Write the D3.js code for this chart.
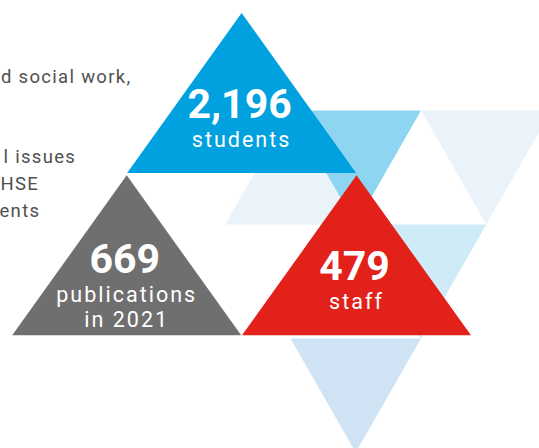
<!DOCTYPE html>
<html>
<head>
<meta charset="utf-8">
<script src="https://cdn.jsdelivr.net/npm/d3@7"></script>
<style>
  html, body { margin: 0; padding: 0; background: #fff; }
  svg { display: block; }
</style>
</head>
<body>
<svg id="chart"></svg>
<script>
// key figures shown in the big triangles
var statValues = ["2,196", "669", "479"];
var statLabels = [["students"], ["publications", "in 2021"], ["staff"]];
var statColors = ["#00a1de", "#6f6f6f", "#e3211b"];
// where each big triangle sits in the tiling (column, row)
var statCols = [1, 0, 2];
var statRows = [0, 1, 1];

// pale triangles behind (column, row, pointing down?)
var bgCols = [0, 0.5, 1.5, 1, 0.5];
var bgRows = [0, 0, 0, 1, 2];
var bgDown = [false, true, true, true, true];
var bgColors = ["#eaf3fa", "#8dd5f0", "#ebf3fa", "#cfebf7", "#cfe3f4"];

// cut off paragraph on the left
var introLines = ["d social work,", "", "", "l issues", "HSE", "ents"];
var introX = [1, 0, 0, 3.5, 0.5, -0.5];

const width = 539, height = 448;

var svg = d3.select("#chart")
  .attr("width", width)
  .attr("height", height);

// big triangles: 229 wide, 160 tall
var xBig = d3.scaleLinear().domain([0, 2]).range([126.7, 356.5]);
var yBig = d3.scaleLinear().domain([0, 1]).range([13, 175.3]);
const bigHalf = 114.5, bigH = 160;

// background grid, roughly equilateral
var xBg = d3.scaleLinear().domain([0, 1]).range([290.5, 421]);
var yBg = d3.scaleLinear().domain([0, 1]).range([110.5, 224.5]);
const bgHalf = (xBg(1) - xBg(0)) / 2, bgH = yBg(1) - yBg(0);

var bgData = bgCols.map((c, i) => ({ c: c, r: bgRows[i], down: bgDown[i], color: bgColors[i] }));

svg.append("g")
  .selectAll("path")
  .data(bgData)
  .enter()
  .append("path")
  .attr("d", function(d) {
    var cx = xBg(d.c), top = yBg(d.r);
    var pts = d.down
      ? [[cx - bgHalf, top], [cx + bgHalf, top], [cx, top + bgH]]
      : [[cx, top], [cx + bgHalf, top + bgH], [cx - bgHalf, top + bgH]];
    return d3.line()(pts) + "Z";
  })
  .attr("fill", d => d.color);

// intro text
svg.append("g")
  .selectAll("text")
  .data(introLines)
  .enter()
  .append("text")
  .attr("x", (d, i) => introX[i])
  .attr("y", (d, i) => 83.3 + i * 26.7)
  .attr("font-family", "Roboto, sans-serif")
  .attr("font-size", 18.5)
  .attr("letter-spacing", 1.3)
  .attr("fill", "#505050")
  .text(d => d);

var stats = statValues.map((v, i) => ({
  value: v, label: statLabels[i], color: statColors[i], c: statCols[i], r: statRows[i]
}));

var tri = svg.append("g")
  .selectAll("g")
  .data(stats)
  .enter()
  .append("g")
  .attr("transform", d => `translate(${xBig(d.c)}, ${yBig(d.r)})`);

tri.append("path")
  .attr("d", d3.line()([[0, 0], [bigHalf, bigH], [-bigHalf, bigH]]) + "Z")
  .attr("fill", d => d.color);

// number baseline, shifted up a bit when the label wraps
const numY = d => 105 - (d.label.length - 1) * 7;

tri.append("text")
  .attr("x", -2)
  .attr("y", numY)
  .attr("text-anchor", "middle")
  .attr("font-family", "Roboto, sans-serif")
  .attr("font-weight", "bold")
  .attr("font-size", 41)
  .attr("fill", "#fff")
  .text(d => d.value);

tri.each(function(d) {
  var g = d3.select(this);
  d.label.forEach(function(line, j) {
    g.append("text")
      .attr("x", 0)
      .attr("y", numY(d) + 29 + j * 25)
      .attr("text-anchor", "middle")
      .attr("font-family", "Roboto, sans-serif")
      .attr("font-size", 21.5)
      .attr("letter-spacing", 2)
      .attr("fill", "#fff")
      .text(line);
  });
});
</script>
</body>
</html>
